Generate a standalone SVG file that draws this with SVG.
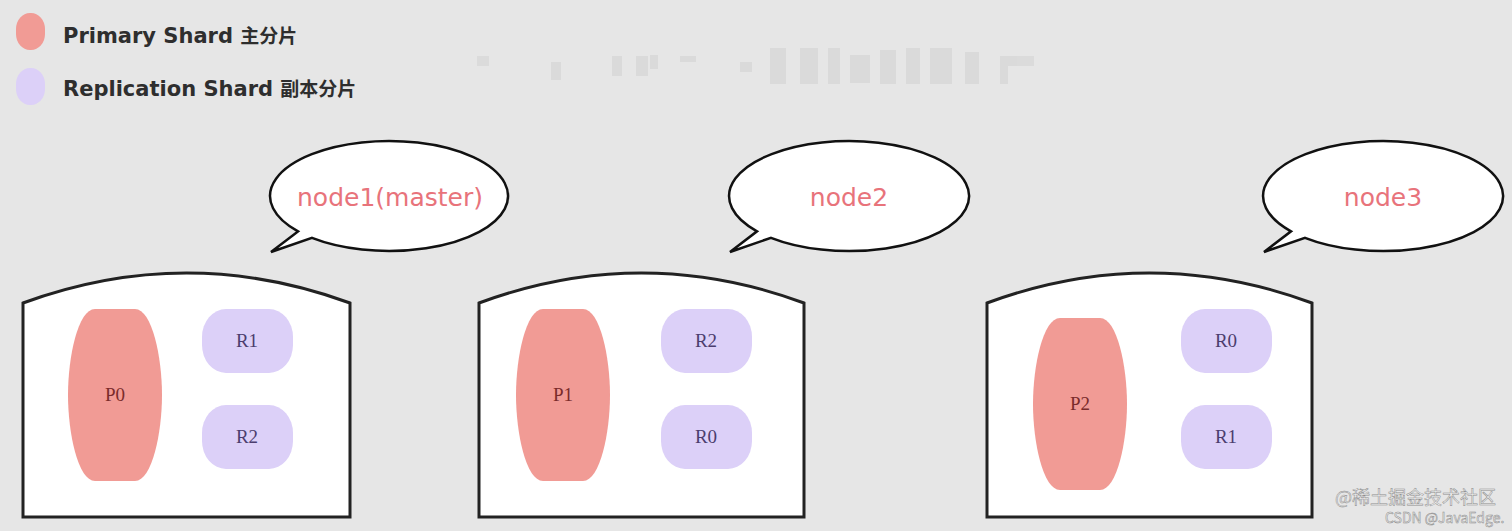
<svg xmlns="http://www.w3.org/2000/svg" width="1512" height="531" viewBox="0 0 1512 531">
<defs>
<style>
.bg{fill:#e6e6e6}
.box{fill:#ffffff;stroke:#222;stroke-width:3}
.bubble{fill:#ffffff;stroke:#111;stroke-width:2.5;stroke-linejoin:miter}
.btxt{font-family:"DejaVu Sans",Verdana,sans-serif;font-size:25px;fill:#e8737b;text-anchor:middle}
.prim{fill:#f19b95}
.rep{fill:#dcd0f8}
.ptxt{font-family:"Liberation Serif","DejaVu Serif",serif;font-size:19px;fill:#7a2b2b;text-anchor:middle}
.rtxt{font-family:"Liberation Serif","DejaVu Serif",serif;font-size:19px;fill:#4b3d6e;text-anchor:middle}
.leg{font-family:"DejaVu Sans","Noto Sans CJK SC",sans-serif;font-size:21px;font-weight:bold;fill:#2e2e2e}
.cjk{font-family:"Noto Sans CJK SC",sans-serif;font-size:19px}
.blur{fill:#d2d2d2}
.wm{font-family:"Noto Sans CJK SC",sans-serif;fill:#efefef;stroke:#8c8c8c;stroke-width:0.5}
</style>
<path id="pshape" d="M27,0 H67 C84,0 94,48 94,86 C94,124 84,172 67,172 H27 C10,172 0,124 0,86 C0,48 10,0 27,0 Z"/>
</defs>
<rect class="bg" x="0" y="0" width="1512" height="531"/>

<g id="legend">
<rect class="prim" x="16" y="13" width="29" height="37" rx="14" ry="16"/>
<text class="leg" x="63" y="43">Primary Shard <tspan class="cjk">主分片</tspan></text>
<rect class="rep" x="16" y="68" width="29" height="37" rx="14" ry="16"/>
<text class="leg" x="63" y="96">Replication Shard <tspan class="cjk">副本分片</tspan></text>
</g>

<g id="mosaic" opacity="0.55">
<rect class="blur" x="477" y="56" width="12" height="10"/>
<rect class="blur" x="551" y="62" width="10" height="18"/>
<rect class="blur" x="612" y="56" width="10" height="20"/>
<rect class="blur" x="636" y="56" width="12" height="20"/>
<rect class="blur" x="650" y="55" width="8" height="14"/>
<rect class="blur" x="680" y="56" width="16" height="6"/>
<rect class="blur" x="740" y="62" width="12" height="10"/>
<rect class="blur" x="770" y="48" width="16" height="36"/>
<rect class="blur" x="800" y="48" width="18" height="36"/>
<rect class="blur" x="828" y="48" width="12" height="36"/>
<rect class="blur" x="850" y="55" width="20" height="28"/>
<rect class="blur" x="880" y="50" width="16" height="34"/>
<rect class="blur" x="906" y="48" width="14" height="36"/>
<rect class="blur" x="930" y="48" width="22" height="36"/>
<rect class="blur" x="965" y="52" width="14" height="32"/>
<rect class="blur" x="1000" y="56" width="34" height="10"/>
<rect class="blur" x="1000" y="66" width="8" height="18"/>
</g>

<g id="node1">
<path class="box" d="M23,303 Q186.5,243 350,303 L350,517 L23,517 Z"/>
<path class="bubble" d="M298,231.4 A119,55 0 1 1 312,237.9 L271,252 Z"/>
<text class="btxt" x="390" y="206">node1(master)</text>
<use href="#pshape" class="prim" x="68" y="309"/>
<text class="ptxt" x="115" y="401">P0</text>
<rect class="rep" x="202" y="309" width="91" height="64" rx="24" ry="28"/>
<text class="rtxt" x="247" y="347">R1</text>
<rect class="rep" x="202" y="405" width="91" height="64" rx="24" ry="28"/>
<text class="rtxt" x="247" y="443">R2</text>
</g>

<g id="node2">
<path class="box" d="M479,303 Q641.5,243 804,303 L804,517 L479,517 Z"/>
<path class="bubble" d="M757,231.3 A120,55 0 1 1 771,237.8 L730,252 Z"/>
<text class="btxt" x="849" y="206">node2</text>
<use href="#pshape" class="prim" x="516" y="309"/>
<text class="ptxt" x="563" y="401">P1</text>
<rect class="rep" x="661" y="309" width="91" height="64" rx="24" ry="28"/>
<text class="rtxt" x="706" y="347">R2</text>
<rect class="rep" x="661" y="405" width="91" height="64" rx="24" ry="28"/>
<text class="rtxt" x="706" y="443">R0</text>
</g>

<g id="node3">
<path class="box" d="M987,303 Q1149.5,243 1312,303 L1312,517 L987,517 Z"/>
<path class="bubble" d="M1291,231.3 A120,55 0 1 1 1305,237.8 L1264,252 Z"/>
<text class="btxt" x="1383" y="206">node3</text>
<use href="#pshape" class="prim" x="1033" y="318"/>
<text class="ptxt" x="1080" y="410">P2</text>
<rect class="rep" x="1181" y="309" width="91" height="64" rx="24" ry="28"/>
<text class="rtxt" x="1226" y="347">R0</text>
<rect class="rep" x="1181" y="405" width="91" height="64" rx="24" ry="28"/>
<text class="rtxt" x="1226" y="443">R1</text>
</g>

<g id="connectors"></g>

<g id="watermark">
<text class="wm" x="1335" y="504" font-size="18">@稀土掘金技术社区</text>
<text class="wm" x="1385" y="523" font-size="14" font-family="'Liberation Sans',Arial,sans-serif">CSDN @JavaEdge.</text>
</g>
</svg>
